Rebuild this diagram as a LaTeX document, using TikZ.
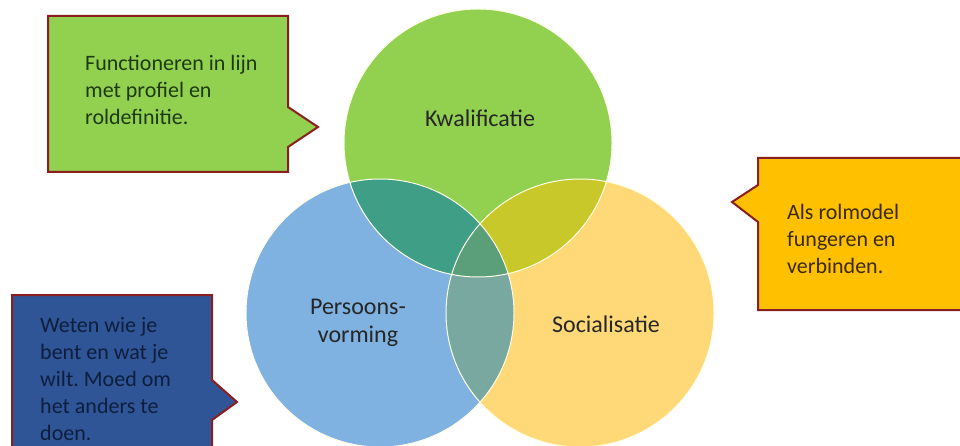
\documentclass[tikz,border=0pt]{standalone}
\usepackage{fontspec}
\setmainfont{Carlito}
\frenchspacing
\definecolor{cgreen}{HTML}{92D050}
\definecolor{cblue}{HTML}{7FB2E0}
\definecolor{cyellow}{HTML}{FFD878}
\definecolor{cgb}{HTML}{3E9E86}
\definecolor{cgy}{HTML}{C8C82A}
\definecolor{cby}{HTML}{78A8A0}
\definecolor{cgby}{HTML}{5A9E7A}
\definecolor{boxred}{HTML}{8B1E1E}
\definecolor{boxgreen}{HTML}{92D050}
\definecolor{boxyellow}{HTML}{FFC000}
\definecolor{boxblue}{HTML}{2F5597}
\definecolor{tgreen}{HTML}{1E3A12}
\definecolor{tyellow}{HTML}{3A2A05}
\definecolor{tblue}{HTML}{0E1E3E}
\begin{document}
\begin{tikzpicture}[x=1pt,y=-1pt,
  callout/.style={draw=boxred,line width=2pt,line join=miter},
  boxtext/.style={anchor=north west,inner sep=0pt,align=left,font=\fontsize{22}{27}\selectfont},
  circlabel/.style={inner sep=0pt,align=center,text=black!85,font=\fontsize{24}{28}\selectfont},
  ring/.style={draw=white!90!yellow,line width=1pt}]
\useasboundingbox (0,0) rectangle (960,446);
\fill[white] (0,0) rectangle (960,446);
% circles
\coordinate (G) at (478,143);
\coordinate (B) at (380,313);
\coordinate (Y) at (580,313);
\fill[cgreen] (G) circle (134pt);
\fill[cblue] (B) circle (134pt);
\fill[cyellow] (Y) circle (134pt);
\begin{scope}
  \clip (G) circle (134pt);
  \fill[cgb] (B) circle (134pt);
  \fill[cgy] (Y) circle (134pt);
\end{scope}
\begin{scope}
  \clip (B) circle (134pt);
  \fill[cby] (Y) circle (134pt);
\end{scope}
\begin{scope}
  \clip (G) circle (134pt);
  \clip (B) circle (134pt);
  \fill[cgby] (Y) circle (134pt);
\end{scope}
\draw[ring] (G) circle (134pt);
\draw[ring] (B) circle (134pt);
\draw[ring] (Y) circle (134pt);
\node[circlabel] (kw) at (480,118) {Kwalificatie};
\node[circlabel] (pv) at (358,323) {Persoons-\\vorming};
\node[circlabel] (so) at (606,324) {Socialisatie};
% callouts
\draw[callout,fill=boxgreen] (48,16) -- (288,16) -- (288,107) -- (318,127) -- (288,147) -- (288,172) -- (48,172) -- cycle;
\node[boxtext,text=tgreen] (gt) at (85,55) {Functioneren in lijn\\met profiel en\\roldefinitie.};
\draw[callout,fill=boxyellow] (758,158) -- (970,158) -- (970,310) -- (758,310) -- (758,222) -- (732,202) -- (758,185) -- cycle;
\node[boxtext,text=tyellow] (yt) at (787,204) {Als rolmodel\\fungeren en\\verbinden.};
\draw[callout,fill=boxblue] (12,295) -- (212,295) -- (212,380) -- (237,402) -- (212,420) -- (212,456) -- (12,456) -- cycle;
\node[boxtext,text=tblue] (bt) at (40,317) {Weten wie je\\bent en wat je\\wilt. Moed om\\het anders te\\doen.};
\end{tikzpicture}
\end{document}
